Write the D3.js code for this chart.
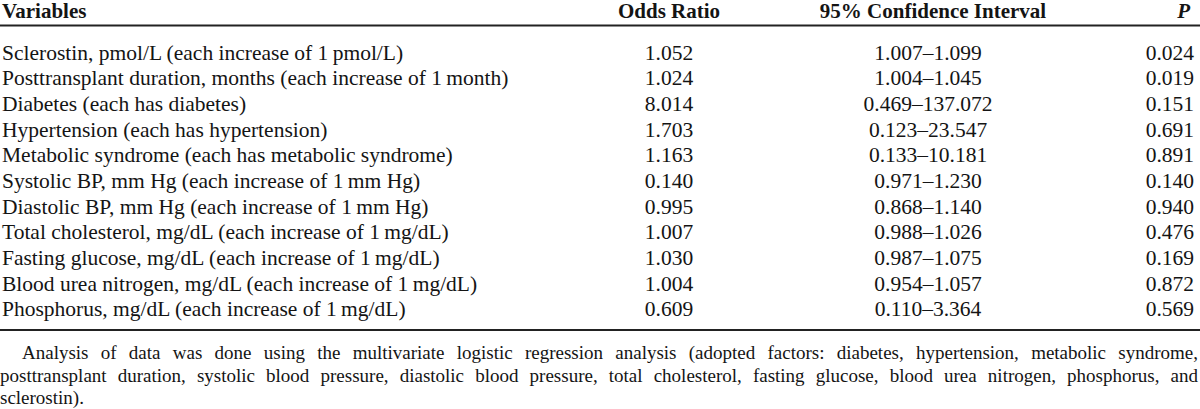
<!DOCTYPE html>
<html><head><meta charset="utf-8">
<script src="https://cdn.jsdelivr.net/npm/d3@7"></script>
<style>
html,body{margin:0;padding:0;background:#fff;}
body{width:1200px;height:409px;overflow:hidden;}
svg{display:block;font-family:"Liberation Serif","Times New Roman",serif;}
</style></head><body>
<svg id="chart" width="1200" height="409"></svg>
<script>
const headers = ["Variables", "Odds Ratio", "95% Confidence Interval", "P"];
const variables = [
  "Sclerostin, pmol/L (each increase of 1\u2009pmol/L)",
  "Posttransplant duration, months (each increase of 1\u2009month)",
  "Diabetes (each has diabetes)",
  "Hypertension (each has hypertension)",
  "Metabolic syndrome (each has metabolic syndrome)",
  "Systolic BP, mm Hg (each increase of 1\u2009mm Hg)",
  "Diastolic BP, mm Hg (each increase of 1\u2009mm Hg)",
  "Total cholesterol, mg/dL (each increase of 1\u2009mg/dL)",
  "Fasting glucose, mg/dL (each increase of 1\u2009mg/dL)",
  "Blood urea nitrogen, mg/dL (each increase of 1\u2009mg/dL)",
  "Phosphorus, mg/dL (each increase of 1\u2009mg/dL)"
];
const oddsRatios = [1.052, 1.024, 8.014, 1.703, 1.163, 0.140, 0.995, 1.007, 1.030, 1.004, 0.609];
const ciLower = [1.007, 1.004, 0.469, 0.123, 0.133, 0.971, 0.868, 0.988, 0.987, 0.954, 0.110];
const ciUpper = [1.099, 1.045, 137.072, 23.547, 10.181, 1.230, 1.140, 1.026, 1.075, 1.057, 3.364];
const pValues = [0.024, 0.019, 0.151, 0.691, 0.891, 0.140, 0.940, 0.476, 0.169, 0.872, 0.569];
const footnoteLines = [
  "Analysis of data was done using the multivariate logistic regression analysis (adopted factors: diabetes, hypertension, metabolic syndrome,",
  "posttransplant duration, systolic blood pressure, diastolic blood pressure, total cholesterol, fasting glucose, blood urea nitrogen, phosphorus, and",
  "sclerostin)."
];

const W = 1200, H = 409;
const FS = 21.5, FN_FS = 19;
const ink = "#141414";
const svg = d3.select("#chart");
const fmt = d3.format(".3f");

// column anchors
const colX = d3.scaleOrdinal().domain(headers).range([2, 669, 928, 1194]);
const colAnchor = d3.scaleOrdinal().domain(headers).range(["start", "middle", "middle", "end"]);
const headX = d3.scaleOrdinal().domain(headers).range([2, 669, 933, 1190]);

// header
svg.append("g").selectAll("text").data(headers).join("text")
  .attr("x", d => headX(d))
  .attr("y", 18)
  .attr("text-anchor", d => colAnchor(d))
  .attr("font-size", 21).attr("font-weight", "bold")
  .attr("font-style", d => d === "P" ? "italic" : "normal")
  .attr("fill", ink)
  .text(d => d);

// rules
const rules = [25.5, 330];
svg.append("g").selectAll("line").data(rules).join("line")
  .attr("x1", 0).attr("x2", W).attr("y1", d => d).attr("y2", d => d)
  .attr("stroke", "#222").attr("stroke-width", 2);

// rows
const y = d3.scaleBand().domain(d3.range(variables.length)).range([40, 322]);
const rows = variables.map((v, i) => ({
  cells: [v, fmt(oddsRatios[i]), fmt(ciLower[i]) + "\u2013" + fmt(ciUpper[i]), fmt(pValues[i])],
  i
}));
const rowG = svg.append("g").selectAll("g").data(rows).join("g")
  .attr("transform", d => `translate(0,${y(d.i) + y.bandwidth() / 2 + 7})`);
rowG.selectAll("text").data(d => d.cells.map((c, j) => ({c, h: headers[j]}))).join("text")
  .attr("x", d => colX(d.h))
  .attr("text-anchor", d => colAnchor(d.h))
  .attr("font-size", FS).attr("fill", ink)
  .text(d => d.c);

// footnote, justified lines
const fnY = d3.scaleLinear().domain([0, 1]).range([359, 381.5]);
footnoteLines.forEach((line, li) => {
  const indent = li === 0 ? 22 : 0;
  const words = line.split(" ");
  const g = svg.append("g");
  const t = g.selectAll("text").data(words).join("text")
    .attr("y", fnY(li)).attr("font-size", FN_FS).attr("fill", ink).text(d => d);
  const widths = t.nodes().map(n => n.getComputedTextLength());
  const total = d3.sum(widths);
  const justify = li < footnoteLines.length - 1;
  const gap = justify ? (W - 2 - indent - total) / (words.length - 1) : FN_FS * 0.25;
  let x = indent;
  t.attr("x", (d, k) => { const xx = x; x += widths[k] + gap; return xx; });
});
</script>
</body></html>
